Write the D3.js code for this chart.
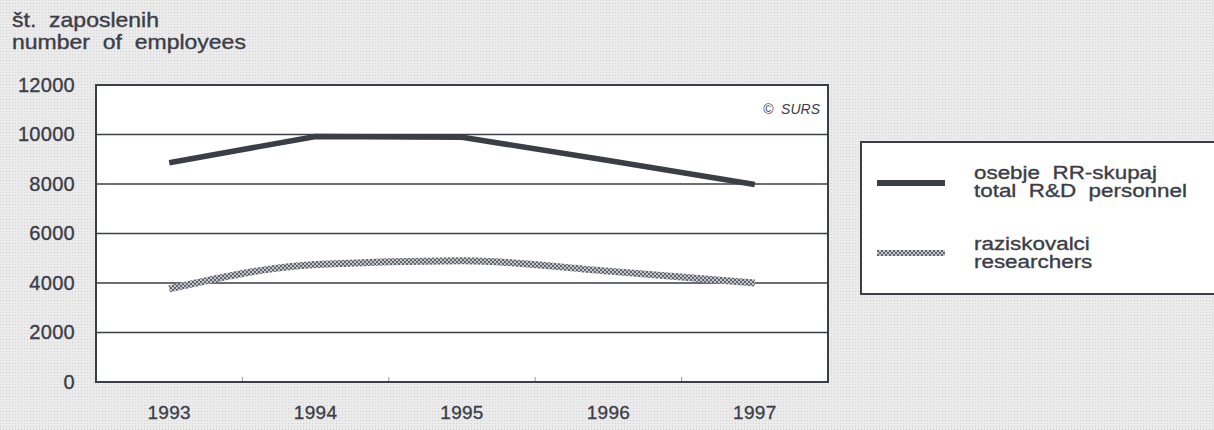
<!DOCTYPE html>
<html>
<head>
<meta charset="utf-8">
<script src="https://cdn.jsdelivr.net/npm/d3@7"></script>
<style>
  body { margin: 0; background: #e9e9e9; }
  svg { display: block; font-family: "Liberation Sans", Arial, sans-serif; }
  text { white-space: pre; }
</style>
</head>
<body>
<script>
// data
var years = ["1993", "1994", "1995", "1996", "1997"];
var totalPersonnel = [8860, 9920, 9890, 8950, 7980];
var researchers = [3760, 4750, 4900, 4480, 4000];
var yTicks = [0, 2000, 4000, 6000, 8000, 10000, 12000];
var titleLines = ["št.  zaposlenih", "number  of  employees"];
var legendLabels = [["osebje  RR-skupaj", "total  R&D  personnel"], ["raziskovalci", "researchers"]];

var W = 1214, H = 430,
    margin = {top: 85, left: 96, right: 386, bottom: 48},
    width = W - margin.left - margin.right,
    height = H - margin.top - margin.bottom,
    ink = "#3b3d47";

var svg = d3.select("body").append("svg")
    .attr("width", W)
    .attr("height", H);

var defs = svg.append("defs");

// halftone background
var bg = defs.append("pattern").attr("id", "halftone")
    .attr("width", 3).attr("height", 3).attr("patternUnits", "userSpaceOnUse");
bg.append("rect").attr("width", 3).attr("height", 3).attr("fill", "#ebebeb");
bg.append("rect").attr("width", 1).attr("height", 1).attr("fill", "#d2d2d2");

// checkered stroke for researchers
var chk = defs.append("pattern").attr("id", "checker")
    .attr("width", 4).attr("height", 4).attr("patternUnits", "userSpaceOnUse");
chk.append("rect").attr("width", 4).attr("height", 4).attr("fill", "#c4c5ca");
chk.append("rect").attr("width", 2).attr("height", 2).attr("fill", "#62646e");
chk.append("rect").attr("x", 2).attr("y", 2).attr("width", 2).attr("height", 2).attr("fill", "#62646e");

svg.append("rect").attr("width", W).attr("height", H).attr("fill", "url(#halftone)");

// stretched text, the scan is wider than the font
function wideText(parent, tx, ty, str, size, sx) {
    return parent.append("text")
        .attr("transform", "translate(" + tx + "," + ty + ") scale(" + sx + ",1)")
        .attr("font-size", size).attr("fill", ink)
        .attr("stroke", ink).attr("stroke-width", 0.35)
        .text(str);
}

// titles
titleLines.forEach(function(t, i) {
    wideText(svg, 12, 27 + i * 22, t, 20, 1.15);
});

var g = svg.append("g").attr("transform", "translate(" + margin.left + "," + margin.top + ")");

var x = d3.scaleBand().domain(years).range([0, width]);
var y = d3.scaleLinear().domain([0, 12000]).range([height, 0]);

g.append("rect").attr("width", width).attr("height", height).attr("fill", "#fff");

// gridlines
g.selectAll(".grid").data(yTicks.slice(1, -1)).enter().append("line")
    .attr("x1", 0).attr("x2", width)
    .attr("y1", function(d) { return y(d); }).attr("y2", function(d) { return y(d); })
    .attr("stroke", ink).attr("stroke-width", 1.3);

// y axis labels
g.append("g")
    .call(d3.axisLeft(y).tickValues(yTicks).tickSize(0).tickPadding(21).tickFormat(d3.format("d")))
    .call(function(a) { a.select(".domain").remove(); })
    .selectAll("text")
    .attr("font-size", 20).attr("letter-spacing", 0.3).attr("fill", ink)
    .attr("stroke", ink).attr("stroke-width", 0.35)
    .attr("font-family", "Liberation Sans, Arial, sans-serif");

// x axis
g.append("g")
    .attr("transform", "translate(0," + height + ")")
    .call(d3.axisBottom(x).tickSize(0).tickPadding(24))
    .call(function(a) { a.select(".domain").remove(); })
    .selectAll("text")
    .attr("font-size", 19).attr("letter-spacing", 0.3).attr("fill", ink)
    .attr("stroke", ink).attr("stroke-width", 0.3)
    .attr("font-family", "Liberation Sans, Arial, sans-serif");

// small ticks at band boundaries
g.selectAll(".btick").data(years.slice(1)).enter().append("line")
    .attr("x1", function(d) { return x(d); }).attr("x2", function(d) { return x(d); })
    .attr("y1", height).attr("y2", height - 5)
    .attr("stroke", "#999").attr("stroke-width", 1);

g.append("rect").attr("width", width).attr("height", height)
    .attr("fill", "none").attr("stroke", ink).attr("stroke-width", 2);

g.append("text").attr("x", width - 8).attr("y", 29)
    .attr("text-anchor", "end").attr("font-size", 14).attr("font-style", "italic").attr("fill", ink)
    .text("©  SURS");

var line = d3.line()
    .x(function(d, i) { return x(years[i]) + x.bandwidth() / 2; })
    .y(function(d) { return y(d); });

g.append("path").datum(researchers)
    .attr("d", line.curve(d3.curveMonotoneX))
    .attr("fill", "none").attr("stroke", "url(#checker)").attr("stroke-width", 7);

g.append("path").datum(totalPersonnel)
    .attr("d", line.curve(d3.curveLinear))
    .attr("fill", "none").attr("stroke", ink).attr("stroke-width", 5.5).attr("stroke-linejoin", "round");

// legend
var lg = svg.append("g").attr("transform", "translate(861,142)");
lg.append("rect").attr("width", 400).attr("height", 152)
    .attr("fill", "#fff").attr("stroke", ink).attr("stroke-width", 2);

var strokes = [{c: ink, w: 6}, {c: "url(#checker)", w: 6}];
var legendY = [41, 111];
legendLabels.forEach(function(lab, i) {
    var cy = legendY[i];
    lg.append("line").attr("x1", 16).attr("x2", 84).attr("y1", cy).attr("y2", cy)
        .attr("stroke", strokes[i].c).attr("stroke-width", strokes[i].w);
    lab.forEach(function(t, j) {
        wideText(lg, 113, cy - 4 + j * 18 + (i ? 1 : 0), t, 19, 1.18);
    });
});
</script>
</body>
</html>
